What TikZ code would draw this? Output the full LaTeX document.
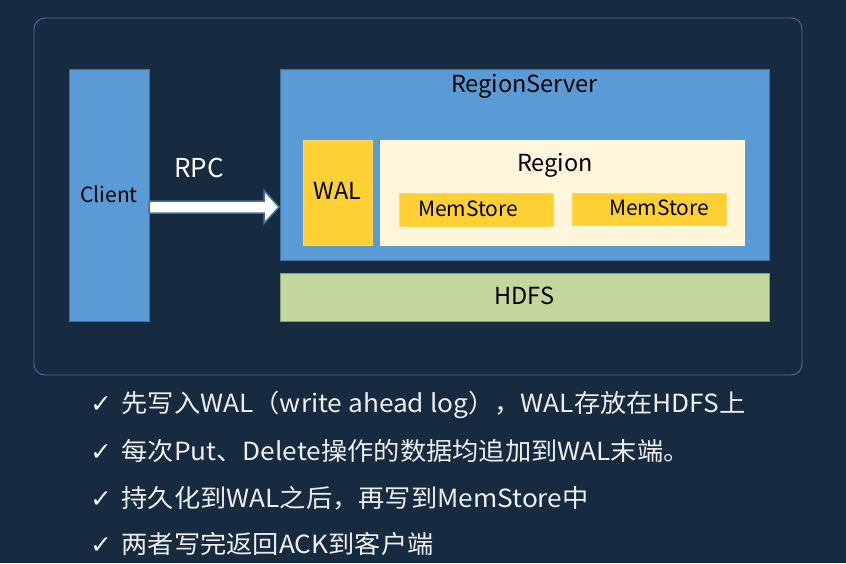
\documentclass[tikz,border=0pt]{standalone}
\usepackage{fontspec}
\setmainfont{Noto Sans CJK SC}
\newfontfamily\symfont{DejaVu Sans}
\usetikzlibrary{calc}
\definecolor{bgc}{HTML}{172B40}
\definecolor{outerc}{HTML}{4472A8}
\definecolor{blue1}{HTML}{5B9BD5}
\definecolor{blueb}{HTML}{41719C}
\definecolor{gold}{HTML}{FFD033}
\definecolor{cream}{HTML}{FFF6DC}
\definecolor{green1}{HTML}{C3D69B}
\definecolor{greenb}{HTML}{8A9E70}
\definecolor{txtw}{HTML}{EEEEEE}
\tikzset{
  box/.style={draw, line width=0.8pt, inner sep=0pt, text=black},
  bluebox/.style={box, fill=blue1, draw=blueb},
  goldbox/.style={box, fill=gold, draw=gold!80!white},
  creambox/.style={box, fill=cream, draw=cream!70!white},
  greenbox/.style={box, fill=green1, draw=greenb},
  lbl/.style={font=\fontsize{23.5}{27}\selectfont},
  mslbl/.style={font=\fontsize{21}{24}\selectfont},
  bullet/.style={anchor=base west, text=txtw, inner sep=0pt, xscale=1.05, transform shape, font=\fontsize{25}{29}\selectfont},
  rpcarrow/.style={draw=blueb, line width=1.5pt, fill=white, line join=miter}
}
\begin{document}
\begin{tikzpicture}[x=1pt,y=-1pt]
\useasboundingbox (0,0) rectangle (846,563);
\fill[bgc] (0,0) rectangle (846,563);
\draw[outerc, line width=0.9pt, rounded corners=11pt] (34,18) rectangle (802,375);

\node[bluebox, minimum width=80pt, minimum height=252pt, font=\fontsize{21}{24}\selectfont] (client) at (109,195) {\raisebox{2pt}{Client}};

\node[bluebox, minimum width=489pt, minimum height=191pt,
  label={[lbl, anchor=center, yshift=-18pt]north:RegionServer}] (rs) at (524.5,164.5) {};
\node[goldbox, minimum width=69pt, minimum height=105pt, lbl] (wal) at (337.5,192.5) {\raisebox{3pt}{WAL}};
\node[creambox, minimum width=364pt, minimum height=105pt,
  label={[lbl, anchor=center, yshift=-26pt, xshift=-7pt]north:Region}] (region) at (562,192.5) {};
\node[goldbox, minimum width=154pt, minimum height=33pt,
  label={[mslbl, anchor=center, xshift=-8pt, yshift=1pt]center:MemStore}] (ms1) at (476,209.5) {};
\node[goldbox, minimum width=154pt, minimum height=32pt,
  label={[mslbl, anchor=center, xshift=10pt, yshift=1pt]center:MemStore}] (ms2) at (649,209) {};
\node[greenbox, minimum width=489pt, minimum height=48pt, lbl] (hdfs) at (524.5,297) {\raisebox{2pt}{HDFS}};

\coordinate (a0) at (149,207);
\coordinate (a1) at (279,207);
\draw[rpcarrow] ($(a0)+(0,-6)$) -- ($(a1)+(-15,-6)$) -- ($(a1)+(-15,-16.5)$) -- (a1)
  -- ($(a1)+(-15,16.5)$) -- ($(a1)+(-15,6)$) -- ($(a0)+(0,6)$) -- cycle;
\node[text=white, font=\fontsize{26}{30}\selectfont] (rpc) at (199,168) {RPC};

\node[bullet] (l1) at (90,412) {\makebox[30pt][l]{\symfont ✓}先写入WAL（write ahead log），WAL存放在HDFS上};
\node[bullet] (l2) at (90,460) {\makebox[30pt][l]{\symfont ✓}每次Put、Delete操作的数据均追加到WAL末端。};
\node[bullet] (l3) at (90,507) {\makebox[30pt][l]{\symfont ✓}持久化到WAL之后，再写到MemStore中};
\node[bullet] (l4) at (90,553) {\makebox[30pt][l]{\symfont ✓}两者写完返回ACK到客户端};
\end{tikzpicture}
\end{document}
